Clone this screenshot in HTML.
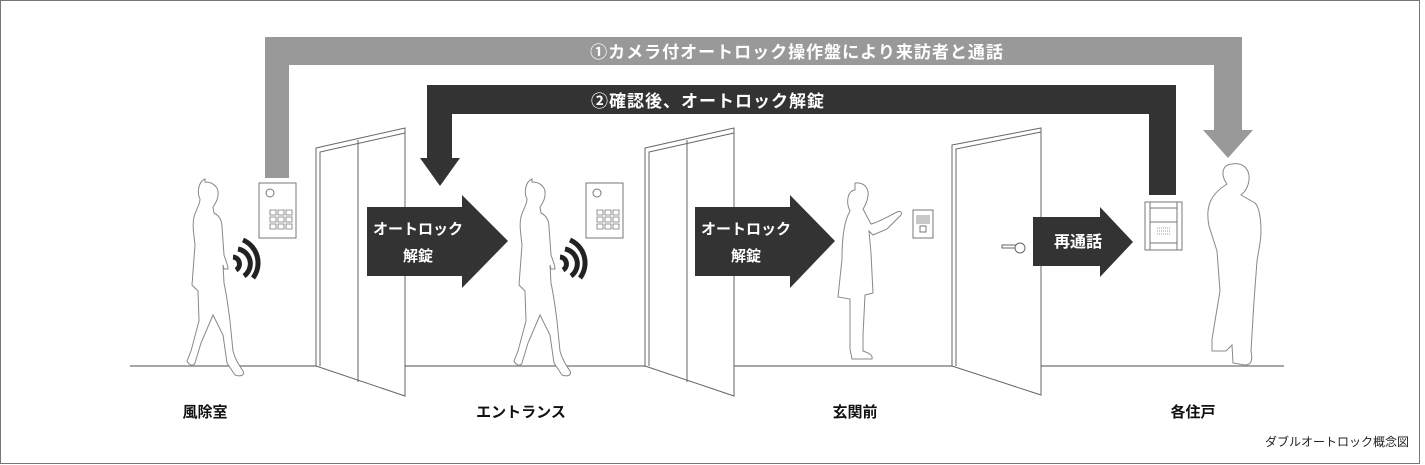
<!DOCTYPE html>
<html><head><meta charset="utf-8"><style>
body{margin:0;background:#fff;}
svg{display:block}
text{font-family:"Liberation Sans","Noto Sans CJK JP",sans-serif;}
</style></head><body>
<svg width="1425" height="465" viewBox="0 0 1425 465" xmlns="http://www.w3.org/2000/svg">
<rect x="0.5" y="0.5" width="1419" height="463" fill="#fff" stroke="#777" stroke-width="1"/>
<line x1="130" y1="366" x2="1284" y2="366" stroke="#888" stroke-width="1.5"/>
<polygon points="265,178 289,178 289,65 1214,65 1214,130 1203,130 1228,158 1253,130 1242,130 1242,37 265,37" fill="#999"/>
<text x="797" y="58" font-size="17" fill="#fff" text-anchor="middle" font-weight="bold" letter-spacing="1">①カメラ付オートロック操作盤により来訪者と通話</text>
<polygon points="1149,195 1176,195 1176,85 427,85 427,158 420,158 440,186 460,158 452,158 452,114 1149,114" fill="#333"/>
<text x="708" y="107" font-size="17" fill="#fff" text-anchor="middle" font-weight="bold" letter-spacing="1">②確認後、オートロック解錠</text>
<g fill="#fff" stroke="#666" stroke-width="1">
<polygon points="316,148 405,128 405,396 316,366"/>
<polyline points="320,366 320,152 405,133" fill="none"/>
<line x1="358" y1="140" x2="358" y2="382"/>
<polygon points="645,148 734,128 734,396 645,366"/>
<polyline points="649,366 649,152 734,133" fill="none"/>
<line x1="687" y1="140" x2="687" y2="382"/>
<polygon points="952,145 1041,128 1041,395 952,366"/>
<polyline points="956,366 956,149 1041,132" fill="none"/>
</g>
<g stroke="#666" fill="#fff"><rect x="1002" y="245" width="18" height="3"/><circle cx="1020" cy="248" r="5"/></g>
<g fill="#fff" stroke="#777">
<rect x="259" y="183" width="37" height="55"/><circle cx="270" cy="193" r="4"/>
<rect x="586" y="183" width="37" height="55"/><circle cx="597" cy="193" r="4"/>
<rect x="913" y="210" width="20" height="28"/><rect x="920" y="226" width="6" height="6"/>
<rect x="1145" y="202" width="37" height="48"/>
<line x1="1150" y1="202" x2="1150" y2="250"/><line x1="1177" y1="202" x2="1177" y2="250"/>
<line x1="1150" y1="208" x2="1177" y2="208"/><line x1="1150" y1="222" x2="1177" y2="222"/><line x1="1150" y1="243" x2="1177" y2="243"/>
</g>
<g fill="none" stroke="#777" stroke-width="0.8">
<path d="M270,210h6v5h-6zM278,210h6v5h-6zM286,210h6v5h-6zM270,217h6v5h-6zM278,217h6v5h-6zM286,217h6v5h-6zM270,224h6v5h-6zM278,224h6v5h-6zM286,224h6v5h-6z"/>
<path d="M597,210h6v5h-6zM605,210h6v5h-6zM613,210h6v5h-6zM597,217h6v5h-6zM605,217h6v5h-6zM613,217h6v5h-6zM597,224h6v5h-6zM605,224h6v5h-6zM613,224h6v5h-6z"/>
<path d="M917,215v9M919,215v9M921,215v9M923,215v9M925,215v9M927,215v9M929,215v9"/>
<path d="M1157,228h14M1157,231h14M1157,234h14" stroke-dasharray="1 1"/>
</g>
<g fill="none" stroke="#222" stroke-width="5">
<path d="M233,257 a7,7 0 0 1 3,13"/><path d="M238,249 a15,15 0 0 1 6,27"/><path d="M243,240 a25,25 0 0 1 10,38"/>
<path d="M560,257 a7,7 0 0 1 3,13"/><path d="M565,249 a15,15 0 0 1 6,27"/><path d="M570,240 a25,25 0 0 1 10,38"/>
</g>
<g fill="#fff" stroke="#888" stroke-width="1">
<path id="w" d="M205,182 c9,0 14,6 13,13 c0,5 -3,9 -5,12 l1,6 c6,3 8,8 8,14 l2,28 c2,6 4,10 4,14 l-4,0 -1,-4 1,18 c3,14 5,30 6,38 l3,30 c2,8 6,14 10,20 c2,4 -2,6 -8,4 l-8,-12 -4,-28 -10,-20 -12,28 -6,20 c-2,4 -6,2 -8,-2 l4,-10 8,-30 -1,-30 -6,-6 3,-40 c-1,-10 -3,-20 -1,-28 c2,-8 6,-12 6,-18 c-3,-6 -2,-17 5,-20z"/>
<use href="#w" x="327"/>
<path d="M855,183 c9,-1 14,5 13,13 c-1,6 -3,10 -5,13 l8,15 c8,-2 18,-8 26,-12 c5,-2 6,2 2,5 l-12,12 -14,6 -4,-4 2,22 2,40 -8,2 -2,40 0,16 c6,2 10,4 9,8 l-20,0 -2,-10 0,-50 -12,-2 4,-38 c0,-20 2,-38 8,-48 c-4,-8 -3,-20 5,-21z"/>
<path d="M1232,164 c12,-2 18,6 17,16 c-1,8 -4,12 -8,15 l14,8 c6,6 7,28 5,40 l-3,18 -3,40 -3,50 c2,10 0,14 -6,14 l-12,-2 -1,-18 -6,6 -14,0 0,-12 8,-48 -3,-40 -8,-25 c-4,-20 2,-32 18,-42 c-6,-8 -6,-19 5,-20z"/>
</g>
<polygon points="367,207 462,207 462,195 508,241 462,288 462,276 367,276" fill="#333"/>
<text x="418" y="234" font-size="15" fill="#fff" text-anchor="middle" font-weight="bold">オートロック</text>
<text x="418" y="261" font-size="15" fill="#fff" text-anchor="middle" font-weight="bold">解錠</text>
<polygon points="695,207 790,207 790,195 835,241 790,288 790,276 695,276" fill="#333"/>
<text x="746" y="234" font-size="15" fill="#fff" text-anchor="middle" font-weight="bold">オートロック</text>
<text x="746" y="261" font-size="15" fill="#fff" text-anchor="middle" font-weight="bold">解錠</text>
<polygon points="1033,217 1100,217 1100,207 1133,242 1100,277 1100,266 1033,266" fill="#333"/>
<text x="1078" y="247" font-size="16" fill="#fff" text-anchor="middle" font-weight="bold">再通話</text>
<g font-size="15" font-weight="bold" fill="#111" text-anchor="middle">
<text x="205" y="417">風除室</text>
<text x="521" y="417">エントランス</text>
<text x="855" y="417">玄関前</text>
<text x="1193" y="417">各住戸</text>
</g>
<text x="1409" y="446" font-size="12" fill="#222" text-anchor="end">ダブルオートロック概念図</text>
</svg>
</body></html>
